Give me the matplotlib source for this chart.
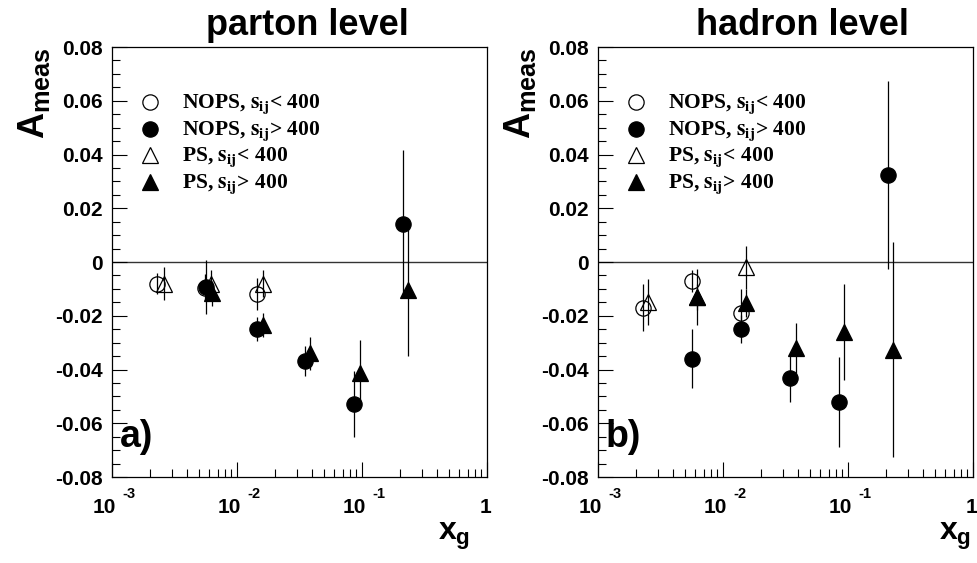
import numpy as np
import matplotlib
matplotlib.use("Agg")
import matplotlib.pyplot as plt
import matplotlib.transforms as mtrans
from matplotlib.ticker import FixedLocator, FixedFormatter, LogLocator, NullFormatter

plt.rcParams['font.family'] = ['Liberation Sans', 'DejaVu Sans']
plt.rcParams['font.weight'] = 'bold'
plt.rcParams['mathtext.fontset'] = 'custom'
plt.rcParams['mathtext.rm'] = 'Liberation Sans:bold'
plt.rcParams['mathtext.it'] = 'Liberation Sans:bold'
plt.rcParams['mathtext.bf'] = 'Liberation Sans:bold'
plt.rcParams['axes.unicode_minus'] = False

# ---------------- data ----------------
panel_titles = ["parton level", "hadron level"]
panel_tags = ["a)", "b)"]
legend_labels = [r"NOPS, $\mathbf{s_{ij}}$< 400", r"NOPS, $\mathbf{s_{ij}}$> 400",
                 r"PS, $\mathbf{s_{ij}}$< 400", r"PS, $\mathbf{s_{ij}}$> 400"]

# parton level
p_nops_lo_x = [2.3e-3, 5.5e-3, 0.0145]
p_nops_lo_y = [-0.008, -0.0095, -0.012]
p_nops_lo_e = [0.004, 0.005, 0.006]
p_ps_lo_x = [2.6e-3, 6.2e-3, 0.016]
p_ps_lo_y = [-0.008, -0.008, -0.008]
p_ps_lo_e = [0.006, 0.005, 0.005]
p_nops_hi_x = [5.65e-3, 0.0145, 0.035, 0.086, 0.213]
p_nops_hi_y = [-0.0093, -0.025, -0.037, -0.053, 0.014]
p_nops_hi_e = [0.010, 0.0045, 0.0056, 0.0123, 0.0275]
p_ps_hi_x = [6.3e-3, 0.0161, 0.0384, 0.0964, 0.233]
p_ps_hi_y = [-0.0117, -0.0234, -0.034, -0.0413, -0.0104]
p_ps_hi_e = [0.0045, 0.0045, 0.006, 0.0123, 0.0245]

# hadron level
h_nops_lo_x = [2.29e-3, 5.65e-3, 0.0139]
h_nops_lo_y = [-0.017, -0.007, -0.019]
h_nops_lo_e = [0.0088, 0.004, 0.009]
h_ps_lo_x = [2.5e-3, 6.2e-3, 0.0153]
h_ps_lo_y = [-0.015, -0.013, -0.002]
h_ps_lo_e = [0.0085, 0.005, 0.008]
h_nops_hi_x = [5.65e-3, 0.0139, 0.0344, 0.0847, 0.209]
h_nops_hi_y = [-0.036, -0.025, -0.0432, -0.052, 0.0324]
h_nops_hi_e = [0.011, 0.0052, 0.009, 0.0167, 0.035]
h_ps_hi_x = [6.2e-3, 0.0153, 0.0384, 0.093, 0.229]
h_ps_hi_y = [-0.013, -0.0153, -0.032, -0.026, -0.0327]
h_ps_hi_e = [0.0104, 0.0052, 0.0093, 0.018, 0.040]

y_ticks = [-0.08, -0.06, -0.04, -0.02, 0.0, 0.02, 0.04, 0.06, 0.08]
y_tick_labels = ["-0.08", "-0.06", "-0.04", "-0.02", "0", "0.02", "0.04", "0.06", "0.08"]
x_decades = [1e-3, 1e-2, 1e-1]
x_exponents = ["-3", "-2", "-1"]

panels = [
    [(p_nops_lo_x, p_nops_lo_y, p_nops_lo_e), (p_nops_hi_x, p_nops_hi_y, p_nops_hi_e),
     (p_ps_lo_x, p_ps_lo_y, p_ps_lo_e), (p_ps_hi_x, p_ps_hi_y, p_ps_hi_e)],
    [(h_nops_lo_x, h_nops_lo_y, h_nops_lo_e), (h_nops_hi_x, h_nops_hi_y, h_nops_hi_e),
     (h_ps_lo_x, h_ps_lo_y, h_ps_lo_e), (h_ps_hi_x, h_ps_hi_y, h_ps_hi_e)],
]

# styles: open circle, filled circle, open triangle, filled triangle
styles = [dict(marker='o', mfc='none'), dict(marker='o', mfc='black'),
          dict(marker='^', mfc='none'), dict(marker='^', mfc='black')]
draw_order = [0, 2, 1, 3]

W, H = 978, 563
fig = plt.figure(figsize=(W / 100, H / 100), dpi=100)
lefts = [112, 598]
titles_cx = [0.52, 0.544]
xg_right = [0.955, 0.995]

for pi in range(2):
    ax = fig.add_axes([lefts[pi] / W, 1 - 477 / H, 375 / W, 430 / H])
    ax.set_xscale('log')
    ax.set_xlim(1e-3, 1)
    ax.set_ylim(-0.08, 0.08)
    ax.axhline(0, color='#333333', lw=1.0, zorder=1)

    for si in draw_order:
        x, y, e = panels[pi][si]
        st = styles[si]
        ax.errorbar(x, y, yerr=e, fmt='none', ecolor='black', elinewidth=0.9, capsize=0, zorder=2)
        ax.plot(x, y, ls='none', marker=st['marker'], mfc=st['mfc'], mec='black',
                ms=11, mew=0.9, zorder=3)

    # axes ticks
    ax.yaxis.set_major_locator(FixedLocator(y_ticks))
    ax.yaxis.set_major_formatter(FixedFormatter(y_tick_labels))
    ax.yaxis.set_minor_locator(FixedLocator(np.arange(-0.08, 0.0801, 0.005)))
    ax.xaxis.set_major_locator(FixedLocator([1e-3, 1e-2, 1e-1, 1]))
    ax.xaxis.set_major_formatter(NullFormatter())
    ax.xaxis.set_minor_locator(LogLocator(base=10, subs=np.arange(2, 10)))
    ax.xaxis.set_minor_formatter(NullFormatter())
    ax.tick_params(which='both', direction='in', top=False, right=False, width=0.8)
    ax.tick_params(which='major', length=11)
    ax.tick_params(which='minor', length=5.5)
    ax.tick_params(axis='y', which='major', labelsize=15, pad=6.5)
    for lab in ax.get_yticklabels():
        lab.set_fontweight('bold')
    for sp in ax.spines.values():
        sp.set_linewidth(0.9)

    # x tick labels in ROOT style
    bt = mtrans.blended_transform_factory(ax.transData, ax.transAxes)
    for xv, ex in zip(x_decades, x_exponents):
        ax.text(xv, -36 / 430, "10", transform=mtrans.offset_copy(bt, fig, x=4, y=0, units='dots'),
                ha='right', va='baseline', fontsize=15, fontweight='bold')
        ax.text(xv, -21 / 430, ex, transform=mtrans.offset_copy(bt, fig, x=10, y=0, units='dots'),
                ha='left', va='baseline', fontsize=10.5, fontweight='bold')
    ax.text(1, -36 / 430, "1", transform=mtrans.offset_copy(bt, fig, x=-1, y=0, units='dots'),
            ha='center', va='baseline', fontsize=15, fontweight='bold', clip_on=False)

    # titles and labels
    ax.text(titles_cx[pi], 1 + 12 / 430, panel_titles[pi], transform=ax.transAxes,
            ha='center', va='baseline', fontsize=26, fontweight='bold')
    ax.text(-60 / 375, 1.0, r"$A_{meas}$", transform=ax.transAxes, rotation=90,
            ha='right', va='top', fontsize=26)
    ax.text(xg_right[pi], -44 / 430, r"$x_{g}$", transform=ax.transAxes,
            ha='right', va='top', fontsize=23)
    ax.text(0.021, 30 / 430, panel_tags[pi], transform=ax.transAxes,
            ha='left', va='baseline', fontsize=27, fontweight='bold')

    # legend (manual, ROOT-like)
    leg_rows = [108, 134.5, 161, 187.5]
    for si, lab in enumerate(legend_labels):
        yb = (477 - leg_rows[si]) / 430
        ym = (477 - leg_rows[si] + 6) / 430
        st = styles[si]
        ax.plot([0.101], [ym], transform=ax.transAxes, ls='none', marker=st['marker'],
                mfc=st['mfc'], mec='black', ms=11, mew=0.9, clip_on=False)
        ax.text(0.187, yb, lab, transform=ax.transAxes, ha='left', va='baseline',
                fontsize=15.5, fontweight='bold',
                family=['Liberation Serif', 'DejaVu Serif'], math_fontfamily='stix')

fig.savefig("out.png", dpi=100)
